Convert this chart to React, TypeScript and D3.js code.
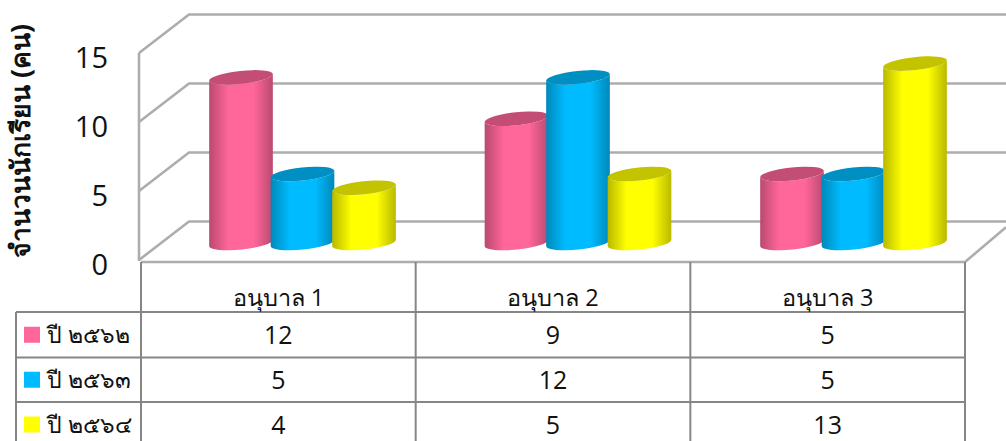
import React from 'react';
import * as d3 from 'd3';

const categories = ['อนุบาล 1', 'อนุบาล 2', 'อนุบาล 3'];
const seriesNames = ['ปี ๒๕๖๒', 'ปี ๒๕๖๓', 'ปี ๒๕๖๔'];
const values2562 = [12, 9, 5];
const values2563 = [5, 12, 5];
const values2564 = [4, 5, 13];
const yTicks = [0, 5, 10, 15];
const seriesValues = [values2562, values2563, values2564];
const colors = ['#ff6699', '#00bbff', '#ffff00'];

const W = 1006;
const H = 441;
const FONT = '"Open Sans", "Noto Sans", sans-serif';

// front edge of the box, back wall is shifted by depth
const y = d3.scaleLinear().domain([0, 15]).range([260, 53]);
const x = d3.scaleBand().domain(categories).range([141, 965]);
const xBars = d3.scaleBand().domain(categories).range([143, 969.5]);
const inner = d3.scaleBand().domain(seriesNames).range([0, 184.5]);
const depthX = 50;
const depthY = -38.5;
const rowY = [312, 357.5, 402, 447];
const rx = 32;
const ry = 6.5;
const tilt = -6;
const baseOffset = 21.75;

function cylinder(cx: number, top: number, bottom: number) {
  const dx = rx * Math.cos((tilt * Math.PI) / 180);
  const dy = rx * Math.sin((tilt * Math.PI) / 180);
  const body = d3.path();
  body.moveTo(cx - dx, top - dy);
  body.lineTo(cx - dx, bottom - dy);
  const arc = (ex: number, ey: number, sweep: number) =>
    `A${rx},${ry} ${tilt} 0 ${sweep} ${ex},${ey}`;
  return `${body.toString()}${arc(cx + dx, bottom + dy, 0)}L${cx + dx},${top + dy}${arc(cx - dx, top - dy, 1)}Z`;
}

export default function App() {
  const unit = (y(0) - y(15)) / 15;
  const columns = [141, ...categories.map((c) => (x(c) as number) + x.bandwidth())];

  return (
    <svg
      width={W}
      height={H}
      style={{ position: 'absolute', left: 0, top: 0, display: 'block', background: '#fff' }}
      fontFamily={FONT}
    >
      <defs>
        {colors.map((c, i) => {
          const dark = d3.color(c)!.darker(0.9).formatHex();
          return (
            <linearGradient id={`cyl${i}`} key={c} x1="0" x2="1" y1="0" y2="0">
              <stop offset="0" stopColor={dark} />
              <stop offset="0.3" stopColor={c} />
              <stop offset="0.7" stopColor={c} />
              <stop offset="1" stopColor={dark} />
            </linearGradient>
          );
        })}
        <filter id="soft" x="-2%" y="-2%" width="104%" height="104%">
          <feGaussianBlur stdDeviation="0.45" />
        </filter>
      </defs>

      <g filter="url(#soft)">
        {/* walls and gridlines */}
        <g fill="none" stroke="#adadad" strokeWidth={2.6}>
          {yTicks.map((t) => (
            <path
              key={t}
              d={`M${139},${y(t)}L${139 + depthX},${y(t) + depthY}L${W + 4},${y(t) + depthY}`}
            />
          ))}
          <path d={`M139,${y(15)}V${y(0) + 1}`} />
          <path d={`M141,262H965L${W},${262 + depthY * 0.9}`} />
        </g>

        {/* cylinders */}
        {categories.map((cat, ci) => {
          const bandCenter = (xBars(cat) as number) + xBars.bandwidth() / 2 + baseOffset;
          const left = bandCenter - inner.range()[1] / 2;
          return (
            <g key={cat}>
              {seriesNames.map((s, si) => {
                const v = seriesValues[si][ci];
                const cx = left + (inner(s) as number) + inner.bandwidth() / 2;
                const bottom = 243;
                const top = bottom - v * unit;
                const topColor = d3.color(colors[si])!.darker(0.75).formatHex();
                return (
                  <g key={s}>
                    <path d={cylinder(cx, top, bottom)} fill={`url(#cyl${si})`} />
                    <ellipse
                      cx={cx}
                      cy={top}
                      rx={rx}
                      ry={ry}
                      fill={topColor}
                      transform={`rotate(${tilt} ${cx} ${top})`}
                    />
                  </g>
                );
              })}
            </g>
          );
        })}
      </g>

      {/* value axis */}
      {yTicks.map((t) => (
        <text key={t} x={108} y={y(t) + 15} textAnchor="end" fontSize={29} fill="#111">
          {t}
        </text>
      ))}
      <text
        transform="translate(30,141) rotate(-90)"
        textAnchor="middle"
        fontSize={26.5}
        fontWeight="bold"
        fill="#111"
      >
        จำนวนนักเรียน (คน)
      </text>

      {/* data table */}
      <g stroke="#868686" strokeWidth={2} fill="none">
        {columns.map((c) => (
          <path key={c} d={`M${c},262V${H}`} />
        ))}
        <path d={`M16,${rowY[0]}V${H}`} />
        {rowY.slice(0, 3).map((r) => (
          <path key={r} d={`M16,${r}H965`} />
        ))}
      </g>
      {categories.map((cat) => (
        <text
          key={cat}
          x={(x(cat) as number) + x.bandwidth() / 2}
          y={306}
          textAnchor="middle"
          fontSize={23.5}
          fill="#111"
        >
          {cat}
        </text>
      ))}
      {seriesNames.map((s, si) => {
        const mid = (rowY[si] + rowY[si + 1]) / 2;
        return (
          <g key={s}>
            <rect x={24} y={mid - 8} width={16} height={16} fill={colors[si]} />
            <text x={47} y={mid + 8} fontSize={23} fill="#111">
              {s}
            </text>
            {categories.map((cat, ci) => (
              <text
                key={cat}
                x={(x(cat) as number) + x.bandwidth() / 2}
                y={mid + 9}
                textAnchor="middle"
                fontSize={25}
                fill="#111"
              >
                {seriesValues[si][ci]}
              </text>
            ))}
          </g>
        );
      })}
    </svg>
  );
}
